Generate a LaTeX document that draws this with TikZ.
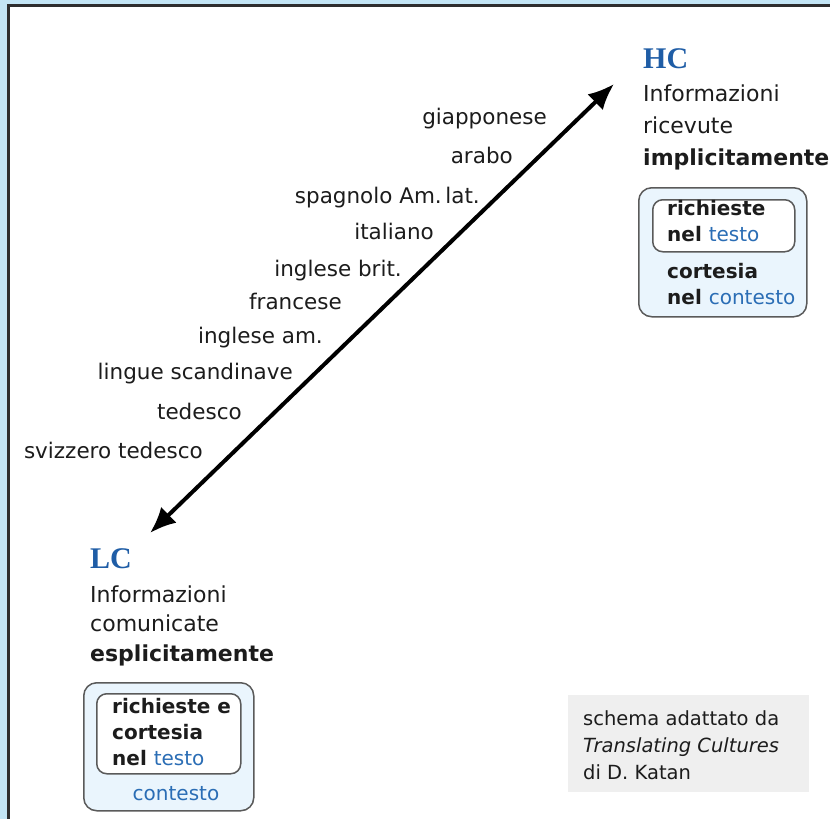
\documentclass[tikz,border=0pt]{standalone}
\usepackage{fontspec}
\setmainfont{DejaVu Sans}
\newfontfamily\titlefont{Liberation Serif}
\usetikzlibrary{arrows.meta,positioning}
\definecolor{framebg}{HTML}{C3E5F5}
\definecolor{framedark}{HTML}{2E2E2E}
\definecolor{ctxblue}{HTML}{2A6DB5}
\definecolor{titleblue}{HTML}{1F5DA6}
\definecolor{boxfill}{HTML}{EAF5FD}
\definecolor{boxline}{HTML}{5A5A5A}
\definecolor{notefill}{HTML}{EFEFEF}
\definecolor{ink}{HTML}{1C1C1C}
\tikzstyle{lang} = [anchor=base east, inner sep=0pt, text=ink, font=\fontsize{21.5}{26}\selectfont]
\tikzstyle{title} = [anchor=base west, inner sep=0pt, text=titleblue, font=\titlefont\bfseries\fontsize{30}{30}\selectfont]
\tikzstyle{info} = [anchor=base west, inner sep=0pt, align=left, text=ink]
\tikzstyle{ctxbox} = [draw=boxline, fill=boxfill, line width=1.5pt, rounded corners=13pt, anchor=north west, inner sep=0pt]
\tikzstyle{txtbox} = [draw=boxline, fill=white, line width=1.5pt, rounded corners=10pt, anchor=north west, inner sep=0pt]
\tikzstyle{boxtext} = [anchor=base west, inner sep=0pt, align=left, text=ink, font=\bfseries\fontsize{20}{26}\selectfont]
\newcommand{\blu}[1]{{\color{ctxblue}\mdseries #1}}

\begin{document}
\begin{tikzpicture}[x=1pt, y=-1pt, >={Latex[length=26pt,width=22pt]}]

\useasboundingbox (0,0) rectangle (830,819);
\fill [framebg] (0,0) rectangle (830,819);
\draw [framedark, line width=2.5pt, fill=white] (8.7,5.4) rectangle (840,830);

% language scale
\coordinate (lcend) at (150,533);
\coordinate (hcend) at (614,84);
\draw [<->, line width=4pt] (lcend) -- (hcend);

\node [lang] (jp) at (547,124) {giapponese};
\node [lang] (ar) at (513,163) {arabo};
\node [lang] (es) at (480,203) {spagnolo Am.\,lat.};
\node [lang] (it) at (434,239) {italiano};
\node [lang] (gb) at (402,276) {inglese brit.};
\node [lang] (fr) at (342,309) {francese};
\node [lang] (us) at (323,343) {inglese am.};
\node [lang] (sc) at (293,379) {lingue scandinave};
\node [lang] (de) at (242,419) {tedesco};
\node [lang] (ch) at (203,458) {svizzero tedesco};

% high context
\node [title] (hc) at (643,68) {HC};
\node [info, font=\fontsize{22}{32}\selectfont] (hcinfo) at (643,165) {Informazioni\\ricevute\\\textbf{implicitamente}};
\node [ctxbox, minimum width=168pt, minimum height=129pt] (hcbox) at (638,187) {};
\node [txtbox, minimum width=142pt, minimum height=52pt] (hcinner) at (652,199) {};
\node [boxtext] (hctesto) at (667,241) {richieste\\nel \blu{testo}};
\node [boxtext] (hccontesto) at (667,304) {cortesia\\nel \blu{contesto}};

% low context
\node [title] (lc) at (90,568) {LC};
\node [info, font=\fontsize{22}{29.5}\selectfont] (lcinfo) at (90,661) {Informazioni\\comunicate\\\textbf{esplicitamente}};
\node [ctxbox, minimum width=170pt, minimum height=128pt] (lcbox) at (83,682) {};
\node [txtbox, minimum width=144pt, minimum height=80pt] (lcinner) at (96,693) {};
\node [boxtext] (lctesto) at (112,765) {richieste e\\cortesia\\nel \blu{testo}};
\node [boxtext, anchor=base] (lccontesto) at (176,800) {\blu{contesto}};

% source
\node [fill=notefill, anchor=north west, minimum width=241pt, minimum height=97pt] (note) at (568,695) {};
\node [info, font=\fontsize{19.5}{27}\selectfont] (notetext) at (583,779) {schema adattato da\\\textit{Translating Cultures}\\di D. Katan};

\end{tikzpicture}
\end{document}
